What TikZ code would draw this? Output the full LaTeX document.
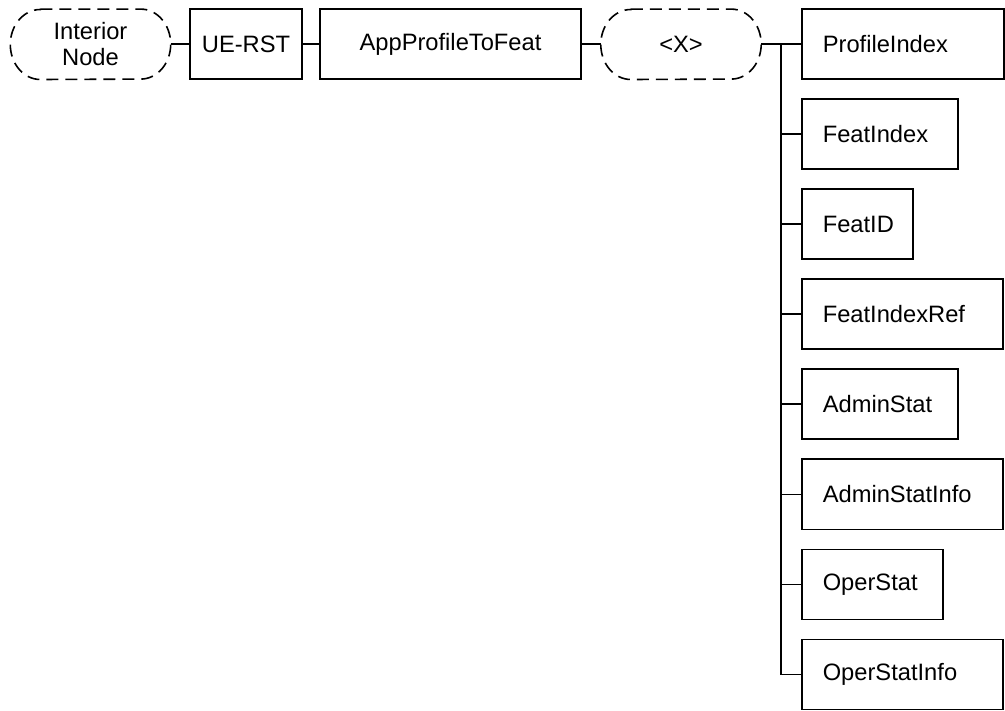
\documentclass[tikz,border=0pt]{standalone}
\usepackage{fontspec}
\setmainfont{Liberation Sans}
\tikzset{
  txt/.style={font=\fontsize{23.7}{26}\selectfont},
  wire/.style={line width=1.6pt},
  outline/.style={line width=1.6pt, dash pattern=on 12pt off 7pt},
  virt/.style={rectangle, minimum width=160pt, minimum height=70pt, inner sep=0pt,
    txt, align=center},
  box/.style={draw, line width=1.6pt, minimum height=70pt, minimum width=#1,
    inner sep=0pt, txt},
  leaf/.style={draw, line width=1.6pt, minimum height=70pt, inner ysep=0pt,
    inner xsep=21pt, text width=#1-42pt, align=left, anchor=west, txt},
}
% dashed capsule round a node: flat top and bottom, elliptic ends
\newcommand\capsule[1]{%
  \draw[outline] ([xshift=30pt]#1.north west) -- ([xshift=-30pt]#1.north east)
    arc[start angle=90, end angle=-90, x radius=30pt, y radius=35pt]
    -- ([xshift=30pt]#1.south west)
    arc[start angle=270, end angle=90, x radius=30pt, y radius=35pt] -- cycle;}
\begin{document}
\begin{tikzpicture}[x=1pt, y=-1pt]
  \useasboundingbox (0,0) rectangle (1005,711);

  % top row
  \node[virt] (interior) at (90.5,44.3) {Interior\\Node};
  \node[box=112pt] (uerst) at (246,44.3) {UE-RST};
  \node[box=261pt] (app) at (450.5,44.3) {AppProfileToFeat};
  \node[virt] (x) at (681,44.3) {<X>};
  \capsule{interior}
  \capsule{x}

  % leaves of <X>
  \node[leaf=202pt] (l1) at (801,44.3)  {ProfileIndex};
  \node[leaf=156pt] (l2) at (801,134.3) {FeatIndex};
  \node[leaf=111pt] (l3) at (801,224.3) {FeatID};
  \node[leaf=201pt] (l4) at (801,314.3) {FeatIndexRef};
  \node[leaf=156pt] (l5) at (801,404.3) {AdminStat};
  \node[leaf=201pt] (l6) at (801,494.3) {AdminStatInfo};
  \node[leaf=141pt] (l7) at (801,584.3) {OperStat};
  \node[leaf=201pt] (l8) at (801,674.3) {OperStatInfo};

  % connectors
  \draw[wire] (interior.east) -- (uerst.west);
  \draw[wire] (uerst.east) -- (app.west);
  \draw[wire] (app.east) -- (x.west);
  \draw[wire] (x.east) -- (l1.west);
  \coordinate (trunk) at (781,44.3);
  \foreach \n in {l2,l3,l4,l5,l6,l7,l8}
    \draw[wire] (trunk) |- (\n.west);
\end{tikzpicture}
\end{document}
